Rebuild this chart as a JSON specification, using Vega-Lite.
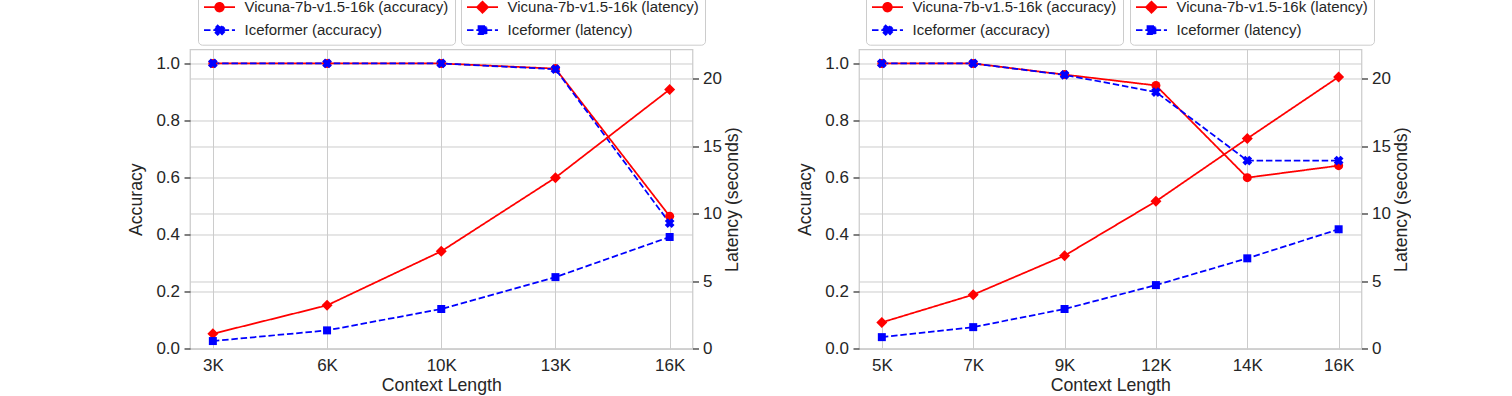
{
  "$schema": "https://vega.github.io/schema/vega-lite/v6.json",
  "padding": {"left": 126, "top": -7.5, "right": 0, "bottom": 0},
  "background": "white",
  "datasets": {
    "L": [
      {"ctx": "3K", "series": "Vicuna-7b-v1.5-16k (accuracy)", "metric": "acc", "v": 1.0},
      {"ctx": "6K", "series": "Vicuna-7b-v1.5-16k (accuracy)", "metric": "acc", "v": 1.0},
      {"ctx": "10K", "series": "Vicuna-7b-v1.5-16k (accuracy)", "metric": "acc", "v": 1.0},
      {"ctx": "13K", "series": "Vicuna-7b-v1.5-16k (accuracy)", "metric": "acc", "v": 0.982},
      {"ctx": "16K", "series": "Vicuna-7b-v1.5-16k (accuracy)", "metric": "acc", "v": 0.465},
      {"ctx": "3K", "series": "Iceformer (accuracy)", "metric": "acc", "v": 1.0},
      {"ctx": "6K", "series": "Iceformer (accuracy)", "metric": "acc", "v": 1.0},
      {"ctx": "10K", "series": "Iceformer (accuracy)", "metric": "acc", "v": 1.0},
      {"ctx": "13K", "series": "Iceformer (accuracy)", "metric": "acc", "v": 0.98},
      {"ctx": "16K", "series": "Iceformer (accuracy)", "metric": "acc", "v": 0.441},
      {"ctx": "3K", "series": "Vicuna-7b-v1.5-16k (latency)", "metric": "lat", "v": 1.12},
      {"ctx": "6K", "series": "Vicuna-7b-v1.5-16k (latency)", "metric": "lat", "v": 3.22},
      {"ctx": "10K", "series": "Vicuna-7b-v1.5-16k (latency)", "metric": "lat", "v": 7.22},
      {"ctx": "13K", "series": "Vicuna-7b-v1.5-16k (latency)", "metric": "lat", "v": 12.67},
      {"ctx": "16K", "series": "Vicuna-7b-v1.5-16k (latency)", "metric": "lat", "v": 19.19},
      {"ctx": "3K", "series": "Iceformer (latency)", "metric": "lat", "v": 0.58},
      {"ctx": "6K", "series": "Iceformer (latency)", "metric": "lat", "v": 1.37},
      {"ctx": "10K", "series": "Iceformer (latency)", "metric": "lat", "v": 2.95},
      {"ctx": "13K", "series": "Iceformer (latency)", "metric": "lat", "v": 5.31},
      {"ctx": "16K", "series": "Iceformer (latency)", "metric": "lat", "v": 8.28}
    ],
    "R": [
      {"ctx": "5K", "series": "Vicuna-7b-v1.5-16k (accuracy)", "metric": "acc", "v": 1.0},
      {"ctx": "7K", "series": "Vicuna-7b-v1.5-16k (accuracy)", "metric": "acc", "v": 1.0},
      {"ctx": "9K", "series": "Vicuna-7b-v1.5-16k (accuracy)", "metric": "acc", "v": 0.961},
      {"ctx": "12K", "series": "Vicuna-7b-v1.5-16k (accuracy)", "metric": "acc", "v": 0.923},
      {"ctx": "14K", "series": "Vicuna-7b-v1.5-16k (accuracy)", "metric": "acc", "v": 0.6},
      {"ctx": "16K", "series": "Vicuna-7b-v1.5-16k (accuracy)", "metric": "acc", "v": 0.642},
      {"ctx": "5K", "series": "Iceformer (accuracy)", "metric": "acc", "v": 1.0},
      {"ctx": "7K", "series": "Iceformer (accuracy)", "metric": "acc", "v": 1.0},
      {"ctx": "9K", "series": "Iceformer (accuracy)", "metric": "acc", "v": 0.96},
      {"ctx": "12K", "series": "Iceformer (accuracy)", "metric": "acc", "v": 0.9},
      {"ctx": "14K", "series": "Iceformer (accuracy)", "metric": "acc", "v": 0.66},
      {"ctx": "16K", "series": "Iceformer (accuracy)", "metric": "acc", "v": 0.66},
      {"ctx": "5K", "series": "Vicuna-7b-v1.5-16k (latency)", "metric": "lat", "v": 1.96},
      {"ctx": "7K", "series": "Vicuna-7b-v1.5-16k (latency)", "metric": "lat", "v": 4.01},
      {"ctx": "9K", "series": "Vicuna-7b-v1.5-16k (latency)", "metric": "lat", "v": 6.9},
      {"ctx": "12K", "series": "Vicuna-7b-v1.5-16k (latency)", "metric": "lat", "v": 10.92},
      {"ctx": "14K", "series": "Vicuna-7b-v1.5-16k (latency)", "metric": "lat", "v": 15.56},
      {"ctx": "16K", "series": "Vicuna-7b-v1.5-16k (latency)", "metric": "lat", "v": 20.12},
      {"ctx": "5K", "series": "Iceformer (latency)", "metric": "lat", "v": 0.87},
      {"ctx": "7K", "series": "Iceformer (latency)", "metric": "lat", "v": 1.61},
      {"ctx": "9K", "series": "Iceformer (latency)", "metric": "lat", "v": 2.95},
      {"ctx": "12K", "series": "Iceformer (latency)", "metric": "lat", "v": 4.72},
      {"ctx": "14K", "series": "Iceformer (latency)", "metric": "lat", "v": 6.7},
      {"ctx": "16K", "series": "Iceformer (latency)", "metric": "lat", "v": 8.85}
    ]
  },
  "hconcat": [
    {
      "width": 502.5,
      "height": 299.4,
      "data": {"name": "L"},
      "encoding": {
        "x": {"field": "ctx", "type": "ordinal", "sort": ["3K", "6K", "10K", "13K", "16K"], "scale": {"padding": 0.2}, "axis": {"title": "Context Length", "labelAngle": 0, "ticks": false, "tickSize": 0, "grid": true, "labelPadding": 9, "titlePadding": 3}}
      },
      "layer": [
        {
          "transform": [{"filter": "datum.metric == 'acc'"}],
          "encoding": {
            "y": {"field": "v", "type": "quantitative", "scale": {"domain": [0, 1.049], "nice": false, "zero": false}, "axis": {"orient": "left", "title": "Accuracy", "values": [0, 0.2, 0.4, 0.6, 0.8, 1.0], "format": ".1f", "grid": true, "labelPadding": 4.5, "titlePadding": 10.3}},
            "color": {"field": "series", "type": "nominal", "scale": {"domain": ["Vicuna-7b-v1.5-16k (accuracy)", "Iceformer (accuracy)"], "range": ["#ff0000", "#0000ff"]},
              "legend": {"orient": "none", "legendX": 8, "legendY": -55.8, "direction": "vertical", "title": null,
                "symbolType": {"expr": "datum.value == 'Iceformer (accuracy)' ? 'M-1.154,0H3.615M0.516,-0.286L1.517,0.715L1.946,0.286L0.945,-0.715ZM0.516,0.286L0.945,0.715L1.946,-0.286L1.517,-0.715Z' : 'M-1.154,0H3.615M0.569,0A0.662,0.662,0,1,0,1.893,0A0.662,0.662,0,1,0,0.569,0Z'"},
                "symbolFillColor": {"expr": "datum.value == 'Iceformer (accuracy)' ? '#0000ff' : '#ff0000'"},
                "symbolStrokeColor": {"expr": "datum.value == 'Iceformer (accuracy)' ? '#0000ff' : '#ff0000'"},
                "symbolDash": {"expr": "datum.value == 'Iceformer (accuracy)' ? [6.5, 2.8] : [1, 0]"}}}
          },
          "layer": [
            {"mark": {"type": "line", "strokeWidth": 1.75},
             "encoding": {"strokeDash": {"field": "series", "type": "nominal", "scale": {"range": [[6.5, 2.8], [1, 0]]}, "legend": null}}},
            {"mark": {"type": "point", "filled": true, "opacity": 1},
             "encoding": {
               "shape": {"field": "series", "type": "nominal", "scale": {"range": ["M-1,-0.4L0.4,1L1,0.4L-0.4,-1ZM-1,0.4L-0.4,1L1,-0.4L0.4,-1Z", "circle"]}, "legend": null},
               "size": {"field": "series", "type": "nominal", "scale": {"range": [95, 81]}, "legend": null}
             }}
          ]
        },
        {
          "transform": [{"filter": "datum.metric == 'lat'"}],
          "encoding": {
            "y": {"field": "v", "type": "quantitative", "scale": {"domain": [0, 22.15], "nice": false, "zero": false}, "axis": {"orient": "right", "title": "Latency (seconds)", "titleAngle": 270, "titleBaseline": "top", "values": [0, 5, 10, 15, 20], "format": "d", "grid": true, "labelPadding": 4, "titlePadding": 2}},
            "color": {"field": "series", "type": "nominal", "scale": {"domain": ["Vicuna-7b-v1.5-16k (latency)", "Iceformer (latency)"], "range": ["#ff0000", "#0000ff"]},
              "legend": {"orient": "none", "legendX": 271, "legendY": -55.8, "direction": "vertical", "title": null,
                "symbolType": {"expr": "datum.value == 'Iceformer (latency)' ? 'M-1.154,0H3.615M0.616,-0.615H1.846V0.615H0.616Z' : 'M-1.154,0H3.615M1.231,-0.858L2.089,0L1.231,0.858L0.373,0Z'"},
                "symbolFillColor": {"expr": "datum.value == 'Iceformer (latency)' ? '#0000ff' : '#ff0000'"},
                "symbolStrokeColor": {"expr": "datum.value == 'Iceformer (latency)' ? '#0000ff' : '#ff0000'"},
                "symbolDash": {"expr": "datum.value == 'Iceformer (latency)' ? [6.5, 2.8] : [1, 0]"}}}
          },
          "layer": [
            {"mark": {"type": "line", "strokeWidth": 1.75},
             "encoding": {"strokeDash": {"field": "series", "type": "nominal", "scale": {"range": [[6.5, 2.8], [1, 0]]}, "legend": null}}},
            {"mark": {"type": "point", "filled": true, "opacity": 1},
             "encoding": {
               "shape": {"field": "series", "type": "nominal", "scale": {"range": ["square", "diamond"]}, "legend": null},
               "size": {"field": "series", "type": "nominal", "scale": {"range": [64, 121]}, "legend": null}
             }}
          ]
        }
      ],
      "resolve": {"scale": {"y": "independent", "color": "independent", "shape": "independent", "size": "independent", "strokeDash": "independent"}, "legend": {"color": "independent"}}
    },
    {
      "width": 502.5,
      "height": 299.4,
      "data": {"name": "R"},
      "encoding": {
        "x": {"field": "ctx", "type": "ordinal", "sort": ["5K", "7K", "9K", "12K", "14K", "16K"], "scale": {"padding": 0.25}, "axis": {"title": "Context Length", "labelAngle": 0, "ticks": false, "tickSize": 0, "grid": true, "labelPadding": 9, "titlePadding": 3}}
      },
      "layer": [
        {
          "transform": [{"filter": "datum.metric == 'acc'"}],
          "encoding": {
            "y": {"field": "v", "type": "quantitative", "scale": {"domain": [0, 1.049], "nice": false, "zero": false}, "axis": {"orient": "left", "title": "Accuracy", "values": [0, 0.2, 0.4, 0.6, 0.8, 1.0], "format": ".1f", "grid": true, "labelPadding": 4.5, "titlePadding": 10.3}},
            "color": {"field": "series", "type": "nominal", "scale": {"domain": ["Vicuna-7b-v1.5-16k (accuracy)", "Iceformer (accuracy)"], "range": ["#ff0000", "#0000ff"]},
              "legend": {"orient": "none", "legendX": 7, "legendY": -55.8, "direction": "vertical", "title": null,
                "symbolType": {"expr": "datum.value == 'Iceformer (accuracy)' ? 'M-1.154,0H3.615M0.516,-0.286L1.517,0.715L1.946,0.286L0.945,-0.715ZM0.516,0.286L0.945,0.715L1.946,-0.286L1.517,-0.715Z' : 'M-1.154,0H3.615M0.569,0A0.662,0.662,0,1,0,1.893,0A0.662,0.662,0,1,0,0.569,0Z'"},
                "symbolFillColor": {"expr": "datum.value == 'Iceformer (accuracy)' ? '#0000ff' : '#ff0000'"},
                "symbolStrokeColor": {"expr": "datum.value == 'Iceformer (accuracy)' ? '#0000ff' : '#ff0000'"},
                "symbolDash": {"expr": "datum.value == 'Iceformer (accuracy)' ? [6.5, 2.8] : [1, 0]"}}}
          },
          "layer": [
            {"mark": {"type": "line", "strokeWidth": 1.75},
             "encoding": {"strokeDash": {"field": "series", "type": "nominal", "scale": {"range": [[6.5, 2.8], [1, 0]]}, "legend": null}}},
            {"mark": {"type": "point", "filled": true, "opacity": 1},
             "encoding": {
               "shape": {"field": "series", "type": "nominal", "scale": {"range": ["M-1,-0.4L0.4,1L1,0.4L-0.4,-1ZM-1,0.4L-0.4,1L1,-0.4L0.4,-1Z", "circle"]}, "legend": null},
               "size": {"field": "series", "type": "nominal", "scale": {"range": [95, 81]}, "legend": null}
             }}
          ]
        },
        {
          "transform": [{"filter": "datum.metric == 'lat'"}],
          "encoding": {
            "y": {"field": "v", "type": "quantitative", "scale": {"domain": [0, 22.15], "nice": false, "zero": false}, "axis": {"orient": "right", "title": "Latency (seconds)", "titleAngle": 270, "titleBaseline": "top", "values": [0, 5, 10, 15, 20], "format": "d", "grid": true, "labelPadding": 4, "titlePadding": 2}},
            "color": {"field": "series", "type": "nominal", "scale": {"domain": ["Vicuna-7b-v1.5-16k (latency)", "Iceformer (latency)"], "range": ["#ff0000", "#0000ff"]},
              "legend": {"orient": "none", "legendX": 271, "legendY": -55.8, "direction": "vertical", "title": null,
                "symbolType": {"expr": "datum.value == 'Iceformer (latency)' ? 'M-1.154,0H3.615M0.616,-0.615H1.846V0.615H0.616Z' : 'M-1.154,0H3.615M1.231,-0.858L2.089,0L1.231,0.858L0.373,0Z'"},
                "symbolFillColor": {"expr": "datum.value == 'Iceformer (latency)' ? '#0000ff' : '#ff0000'"},
                "symbolStrokeColor": {"expr": "datum.value == 'Iceformer (latency)' ? '#0000ff' : '#ff0000'"},
                "symbolDash": {"expr": "datum.value == 'Iceformer (latency)' ? [6.5, 2.8] : [1, 0]"}}}
          },
          "layer": [
            {"mark": {"type": "line", "strokeWidth": 1.75},
             "encoding": {"strokeDash": {"field": "series", "type": "nominal", "scale": {"range": [[6.5, 2.8], [1, 0]]}, "legend": null}}},
            {"mark": {"type": "point", "filled": true, "opacity": 1},
             "encoding": {
               "shape": {"field": "series", "type": "nominal", "scale": {"range": ["square", "diamond"]}, "legend": null},
               "size": {"field": "series", "type": "nominal", "scale": {"range": [64, 121]}, "legend": null}
             }}
          ]
        }
      ],
      "resolve": {"scale": {"y": "independent", "color": "independent", "shape": "independent", "size": "independent", "strokeDash": "independent"}, "legend": {"color": "independent"}}
    }
  ],
  "spacing": 53,
  "resolve": {"scale": {"x": "independent", "y": "independent", "color": "independent", "shape": "independent", "size": "independent", "strokeDash": "independent"}, "legend": {"color": "independent"}},
  "config": {
    "font": "Liberation Sans",
    "view": {"stroke": "#cccccc", "strokeWidth": 1.25},
    "axis": {"labelFont": "Liberation Sans", "titleFont": "Liberation Sans", "labelFontSize": 17, "titleFontSize": 17.7, "titleFontWeight": "normal", "labelColor": "#262626", "titleColor": "#262626", "gridColor": "#cccccc", "gridWidth": 1, "domain": false, "tickColor": "#333333", "tickWidth": 1.25, "tickSize": 6},
    "legend": {"padding": 6, "rowPadding": 6, "labelOffset": 25.5, "symbolSize": 169, "symbolStrokeWidth": 1.75, "symbolOpacity": 1, "strokeColor": "#cccccc", "cornerRadius": 4, "fillColor": "white", "labelFont": "Liberation Sans", "labelFontSize": 15, "labelColor": "#262626", "labelLimit": 400}
  }
}
